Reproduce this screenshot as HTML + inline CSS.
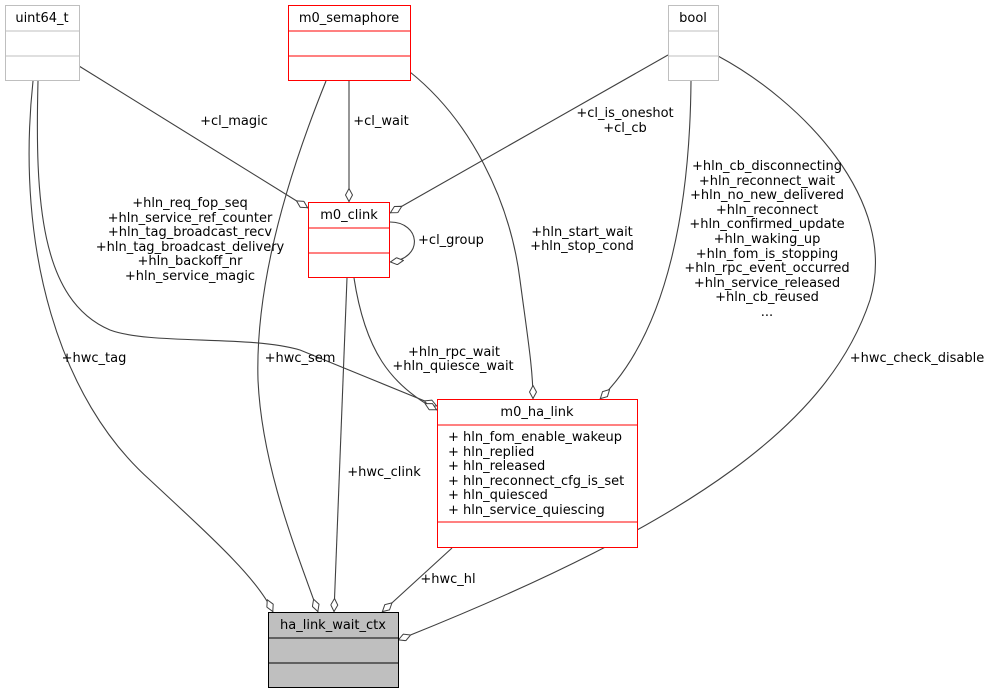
<!DOCTYPE html>
<html><head><meta charset="utf-8"><style>
html,body{margin:0;padding:0;background:#fff;}
svg{display:block;}
text{font-family:"DejaVu Sans","Liberation Sans",sans-serif;font-size:13px;fill:#000;}
.e{fill:none;stroke:#404040;stroke-width:1.1;}
</style></head><body>
<svg width="992" height="695" viewBox="0 0 992 695" xmlns="http://www.w3.org/2000/svg">
<defs>
<marker id="d" viewBox="0 0 14 8" markerWidth="14" markerHeight="8" markerUnits="userSpaceOnUse" refX="14" refY="4" orient="auto">
<path d="M0.5,4 L7,0.5 L13.5,4 L7,7.5 Z" fill="#fff" stroke="#404040" stroke-width="1"/>
</marker>
</defs>

<path class="e" marker-end="url(#d)" d="M33,81 C15,250 60,400 150,480 C220,545 258,580 273,612"/>
<path class="e" marker-end="url(#d)" d="M38,81 C35,200 40,300 110,330 C150,345 250,335 300,350 L437,406"/>
<path class="e" marker-end="url(#d)" d="M79,66 L308,208"/>
<path class="e" marker-end="url(#d)" d="M349,81 L349,202"/>
<path class="e" marker-end="url(#d)" d="M326,81 C290,170 255,280 258,380 C262,470 300,560 318,612"/>
<path class="e" marker-end="url(#d)" d="M410,72 C470,120 510,200 520,280 C528,340 533,370 533,399"/>
<path class="e" marker-end="url(#d)" d="M668,55 L390,213"/>
<path class="e" marker-end="url(#d)" d="M691,81 C690,200 670,330 600,399"/>
<path class="e" marker-end="url(#d)" d="M718,56 C800,100 900,200 870,300 C830,420 700,520 398,640"/>
<path class="e" marker-end="url(#d)" d="M390,222 C420,222 425,258 390,262"/>
<path class="e" marker-end="url(#d)" d="M354,278 C365,350 390,385 437,410"/>
<path class="e" marker-end="url(#d)" d="M347,278 L334,612"/>
<path class="e" marker-end="url(#d)" d="M452,548 L382,612"/>

<rect x="5.5" y="5.5" width="74" height="75" fill="#fff" stroke="#bfbfbf"/>
<line x1="5.5" y1="31" x2="79.5" y2="31" stroke="#bfbfbf"/>
<line x1="5.5" y1="56" x2="79.5" y2="56" stroke="#bfbfbf"/>
<text x="42" y="22" text-anchor="middle">uint64_t</text>

<rect x="288.5" y="5.5" width="122" height="75" fill="#fff" stroke="#ff0000"/>
<line x1="288.5" y1="31" x2="410.5" y2="31" stroke="#ff0000"/>
<line x1="288.5" y1="56" x2="410.5" y2="56" stroke="#ff0000"/>
<text x="349" y="22" text-anchor="middle">m0_semaphore</text>

<rect x="668.5" y="5.5" width="50" height="75" fill="#fff" stroke="#bfbfbf"/>
<line x1="668.5" y1="31" x2="718.5" y2="31" stroke="#bfbfbf"/>
<line x1="668.5" y1="56" x2="718.5" y2="56" stroke="#bfbfbf"/>
<text x="693" y="22" text-anchor="middle">bool</text>

<rect x="308.5" y="202.5" width="81" height="75" fill="#fff" stroke="#ff0000"/>
<line x1="308.5" y1="228" x2="389.5" y2="228" stroke="#ff0000"/>
<line x1="308.5" y1="253" x2="389.5" y2="253" stroke="#ff0000"/>
<text x="349" y="219" text-anchor="middle">m0_clink</text>

<rect x="437.5" y="399.5" width="200" height="148" fill="#fff" stroke="#ff0000"/>
<line x1="437.5" y1="425" x2="637.5" y2="425" stroke="#ff0000"/>
<line x1="437.5" y1="522" x2="637.5" y2="522" stroke="#ff0000"/>
<text x="537" y="416" text-anchor="middle">m0_ha_link</text>
<text x="448" y="441">+ hln_fom_enable_wakeup</text>
<text x="448" y="456">+ hln_replied</text>
<text x="448" y="470">+ hln_released</text>
<text x="448" y="485">+ hln_reconnect_cfg_is_set</text>
<text x="448" y="499">+ hln_quiesced</text>
<text x="448" y="514">+ hln_service_quiescing</text>

<rect x="268.5" y="612.5" width="130" height="75" fill="#bfbfbf" stroke="#000"/>
<line x1="268.5" y1="638" x2="398.5" y2="638" stroke="#000"/>
<line x1="268.5" y1="663" x2="398.5" y2="663" stroke="#000"/>
<text x="333" y="629" text-anchor="middle">ha_link_wait_ctx</text>

<g text-anchor="middle">
<text x="234" y="125">+cl_magic</text>
<text x="381" y="125">+cl_wait</text>
<text x="625" y="117">+cl_is_oneshot</text>
<text x="625" y="132">+cl_cb</text>
<text x="190" y="207">+hln_req_fop_seq</text>
<text x="190" y="222">+hln_service_ref_counter</text>
<text x="190" y="236">+hln_tag_broadcast_recv</text>
<text x="190" y="251">+hln_tag_broadcast_delivery</text>
<text x="190" y="265">+hln_backoff_nr</text>
<text x="190" y="280">+hln_service_magic</text>
<text x="451" y="244">+cl_group</text>
<text x="582" y="236">+hln_start_wait</text>
<text x="582" y="250">+hln_stop_cond</text>
<text x="767" y="170">+hln_cb_disconnecting</text>
<text x="767" y="185">+hln_reconnect_wait</text>
<text x="767" y="199">+hln_no_new_delivered</text>
<text x="767" y="214">+hln_reconnect</text>
<text x="767" y="228">+hln_confirmed_update</text>
<text x="767" y="243">+hln_waking_up</text>
<text x="767" y="258">+hln_fom_is_stopping</text>
<text x="767" y="272">+hln_rpc_event_occurred</text>
<text x="767" y="287">+hln_service_released</text>
<text x="767" y="301">+hln_cb_reused</text>
<text x="767" y="316">...</text>
<text x="94" y="362">+hwc_tag</text>
<text x="300" y="362">+hwc_sem</text>
<text x="454" y="356">+hln_rpc_wait</text>
<text x="453" y="370">+hln_quiesce_wait</text>
<text x="917" y="362">+hwc_check_disable</text>
<text x="384" y="476">+hwc_clink</text>
<text x="448" y="583">+hwc_hl</text>
</g>
</svg>
</body></html>
